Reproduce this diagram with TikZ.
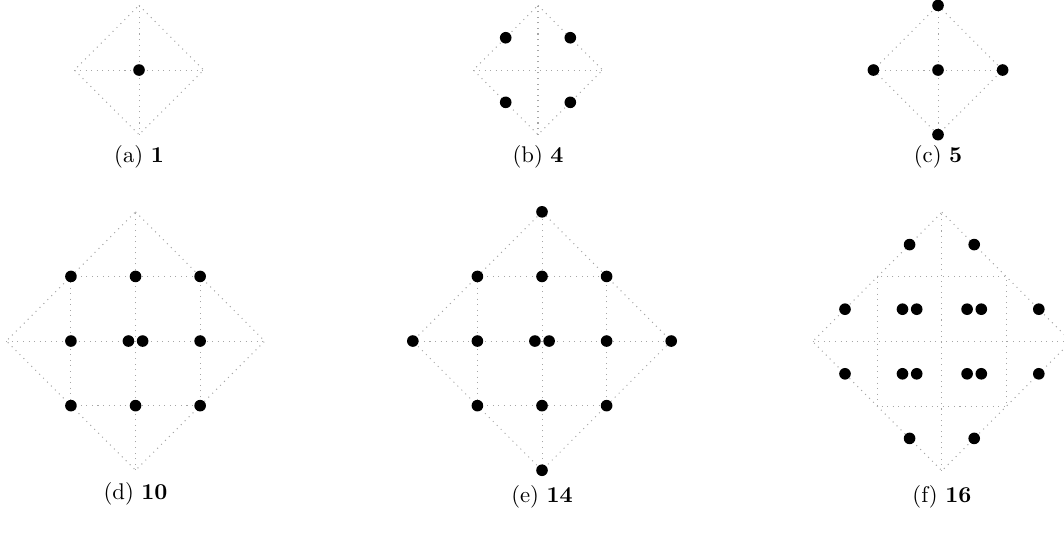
\documentclass[tikz,border=0pt]{standalone}
\usepackage{amsmath}
\usepackage{tikz}
\usetikzlibrary{positioning,calc}

\begin{document}
\begin{tikzpicture}[
    x=1cm, y=1cm,
    lattice/.style={gray!70, dotted, line width=0.45pt},
    pt/.style={black},
    subcap/.style={anchor=center, inner sep=0pt}
  ]
  \useasboundingbox (0,0) rectangle (16.47,-8.251);

  % top row: unit diamonds
  \foreach \cx/\nm in {2.152/a, 8.328/b, 14.52/c} {
    \coordinate (o\nm) at (\cx,-1.084);
    \draw[lattice] ($(o\nm)+(0,1)$) -- ($(o\nm)+(1,0)$) -- ($(o\nm)+(0,-1)$) -- ($(o\nm)+(-1,0)$) -- cycle;
    \draw[lattice] ($(o\nm)+(-1,0)$) -- ($(o\nm)+(1,0)$);
    \draw[lattice] ($(o\nm)+(0,-1)$) -- ($(o\nm)+(0,1)$);
  }

  % bottom row: diamonds of radius 2
  \foreach \cx/\cy/\nm in {2.098/-5.279/d, 8.39/-5.279/e, 14.58/-5.286/f} {
    \coordinate (o\nm) at (\cx,\cy);
    \draw[lattice] ($(o\nm)+(0,2)$) -- ($(o\nm)+(2,0)$) -- ($(o\nm)+(0,-2)$) -- ($(o\nm)+(-2,0)$) -- cycle;
    \draw[lattice] ($(o\nm)+(-2,0)$) -- ($(o\nm)+(2,0)$);
    \draw[lattice] ($(o\nm)+(0,-2)$) -- ($(o\nm)+(0,2)$);
    \draw[lattice] ($(o\nm)+(-1,1)$) rectangle ($(o\nm)+(1,-1)$);
  }

  % (a)
  \fill[pt] (oa) circle (0.09);
  % (b)
  \foreach \dx/\dy in {0.5/0.5, -0.5/0.5, 0.5/-0.5, -0.5/-0.5}
    \fill[pt] ($(ob)+(\dx,\dy)$) circle (0.09);
  % (c)
  \foreach \dx/\dy in {0/0, 1/0, -1/0, 0/1, 0/-1}
    \fill[pt] ($(oc)+(\dx,\dy)$) circle (0.09);
  % (d)
  \foreach \dx/\dy in {-1/1, 0/1, 1/1, -1/0, 1/0, -1/-1, 0/-1, 1/-1, -0.11/0, 0.11/0}
    \fill[pt] ($(od)+(\dx,\dy)$) circle (0.09);
  % (e)
  \foreach \dx/\dy in {-1/1, 0/1, 1/1, -1/0, 1/0, -1/-1, 0/-1, 1/-1, -0.11/0, 0.11/0,
                       0/2, 0/-2, 2/0, -2/0}
    \fill[pt] ($(oe)+(\dx,\dy)$) circle (0.09);
  % (f)
  \foreach \dx/\dy in {-0.5/1.5, 0.5/1.5, -1.5/0.5, 1.5/0.5, -1.5/-0.5, 1.5/-0.5, -0.5/-1.5, 0.5/-1.5}
    \fill[pt] ($(of)+(\dx,\dy)$) circle (0.09);
  \foreach \sx in {-0.5, 0.5}
    \foreach \sy in {-0.5, 0.5}
      \foreach \e in {-0.11, 0.11}
        \fill[pt] ($(of)+(\sx,\sy)+(\e,0)$) circle (0.09);

  % captions
  \node[subcap] (capa) at (2.152,-2.43) {(a) \textbf{1}};
  \node[subcap] (capb) at (8.328,-2.43) {(b) \textbf{4}};
  \node[subcap] (capc) at (14.52,-2.43) {(c) \textbf{5}};
  \node[subcap] (capd) at (2.098,-7.65) {(d) \textbf{10}};
  \node[subcap] (cape) at (8.39,-7.69) {(e) \textbf{14}};
  \node[subcap] (capf) at (14.58,-7.69) {(f) \textbf{16}};
\end{tikzpicture}
\end{document}
